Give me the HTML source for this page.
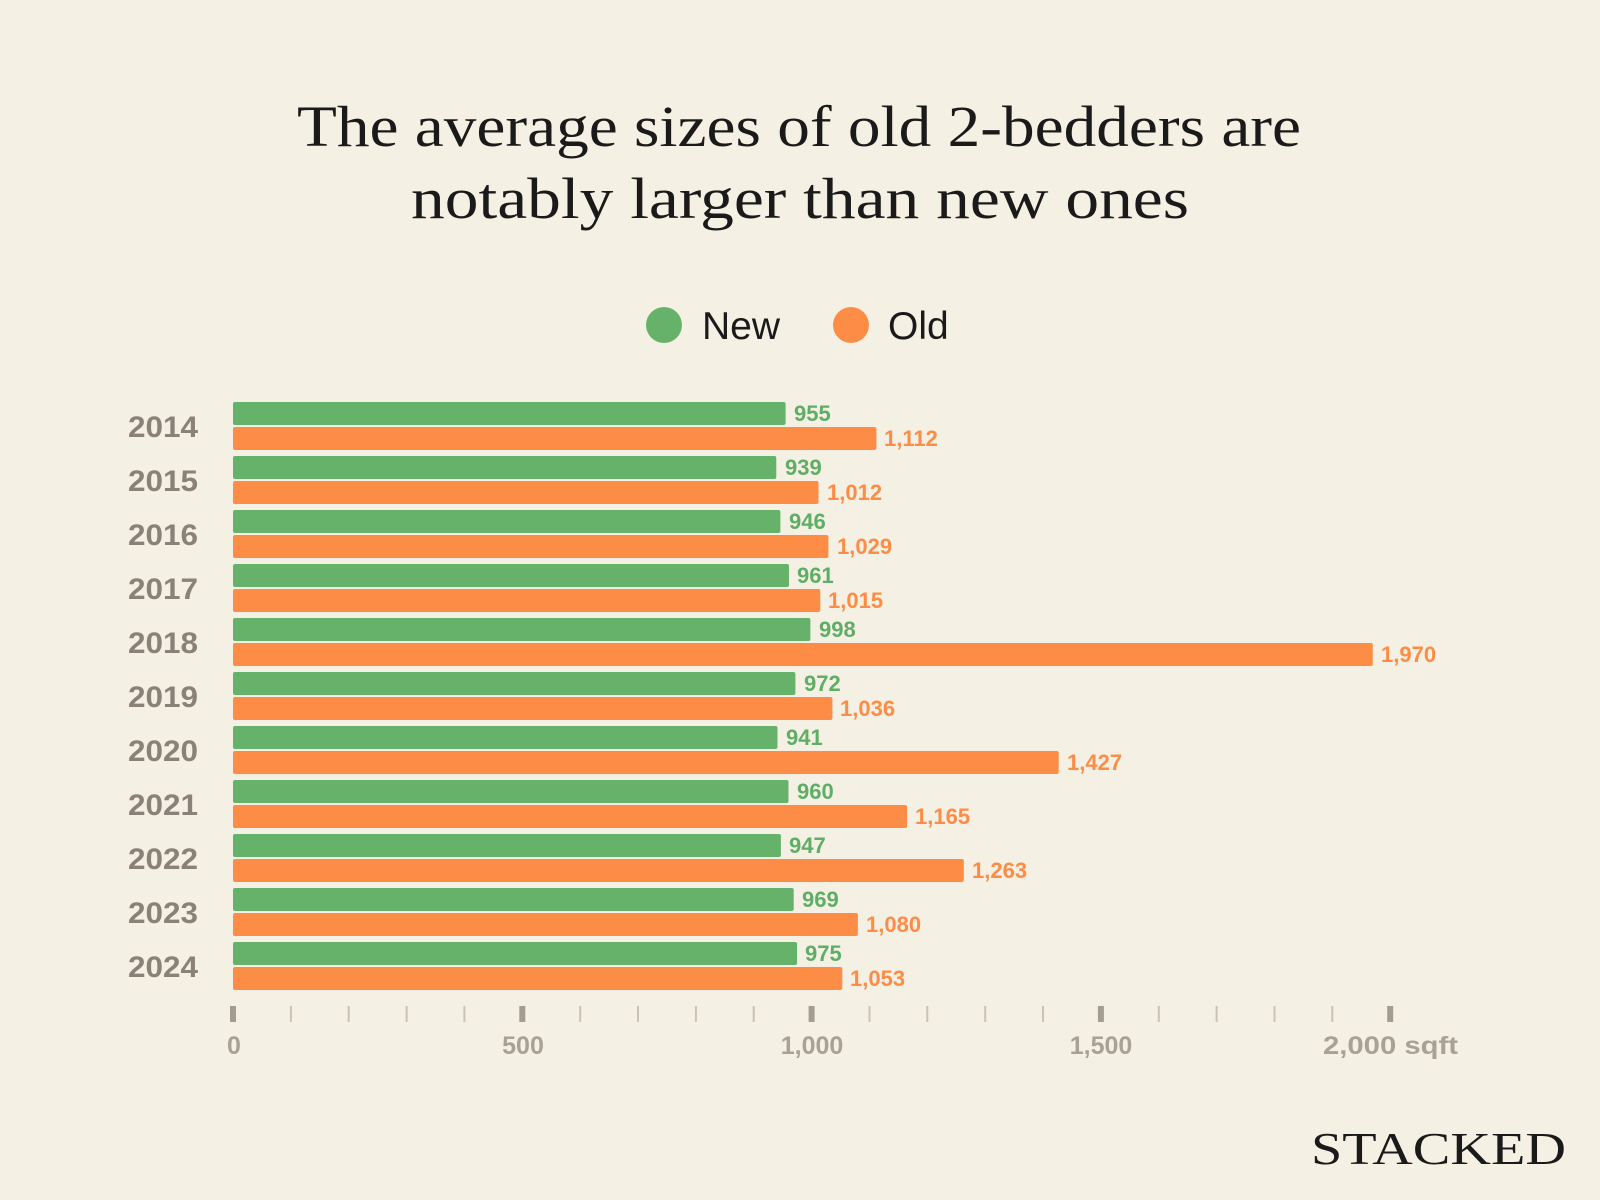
<!DOCTYPE html>
<html><head><meta charset="utf-8"><style>
body{margin:0;background:#f5f0e4;}
svg{display:block}
</style></head><body>
<svg width="1600" height="1200" viewBox="0 0 1600 1200" xmlns="http://www.w3.org/2000/svg">
<rect width="1600" height="1200" fill="#f5f0e4"/>
<g font-family="Liberation Serif, serif" fill="#1a1a1a" font-size="58">
<text x="297" y="146" textLength="1004" lengthAdjust="spacingAndGlyphs">The average sizes of old 2-bedders are</text>
<text x="411" y="218" textLength="778" lengthAdjust="spacingAndGlyphs">notably larger than new ones</text>
</g>
<circle cx="664" cy="325" r="18" fill="#66b26b"/>
<text x="702" y="339" font-family="Liberation Sans, sans-serif" font-size="39" fill="#1a1a1a">New</text>
<circle cx="851" cy="325" r="18" fill="#fd8d46"/>
<text x="888" y="339" font-family="Liberation Sans, sans-serif" font-size="39" fill="#1a1a1a">Old</text>

<g font-family="Liberation Sans, sans-serif" font-weight="bold" font-size="30" fill="#8a8178">
<text x="128" y="437" textLength="70" lengthAdjust="spacingAndGlyphs">2014</text><text x="128" y="491" textLength="70" lengthAdjust="spacingAndGlyphs">2015</text><text x="128" y="545" textLength="70" lengthAdjust="spacingAndGlyphs">2016</text>
<text x="128" y="599" textLength="70" lengthAdjust="spacingAndGlyphs">2017</text><text x="128" y="653" textLength="70" lengthAdjust="spacingAndGlyphs">2018</text><text x="128" y="707" textLength="70" lengthAdjust="spacingAndGlyphs">2019</text>
<text x="128" y="761" textLength="70" lengthAdjust="spacingAndGlyphs">2020</text><text x="128" y="815" textLength="70" lengthAdjust="spacingAndGlyphs">2021</text><text x="128" y="869" textLength="70" lengthAdjust="spacingAndGlyphs">2022</text>
<text x="128" y="923" textLength="70" lengthAdjust="spacingAndGlyphs">2023</text><text x="128" y="977" textLength="70" lengthAdjust="spacingAndGlyphs">2024</text>
</g>
<g fill="#66b26b">
<rect x="233" y="402" width="552.6" height="23" rx="2"/>
<rect x="233" y="456" width="543.3" height="23" rx="2"/>
<rect x="233" y="510" width="547.4" height="23" rx="2"/>
<rect x="233" y="564" width="556.0" height="23" rx="2"/>
<rect x="233" y="618" width="577.4" height="23" rx="2"/>
<rect x="233" y="672" width="562.4" height="23" rx="2"/>
<rect x="233" y="726" width="544.5" height="23" rx="2"/>
<rect x="233" y="780" width="555.5" height="23" rx="2"/>
<rect x="233" y="834" width="547.9" height="23" rx="2"/>
<rect x="233" y="888" width="560.7" height="23" rx="2"/>
<rect x="233" y="942" width="564.1" height="23" rx="2"/>
</g>
<g fill="#fd8d46">
<rect x="233" y="427" width="643.4" height="23" rx="2"/>
<rect x="233" y="481" width="585.5" height="23" rx="2"/>
<rect x="233" y="535" width="595.4" height="23" rx="2"/>
<rect x="233" y="589" width="587.3" height="23" rx="2"/>
<rect x="233" y="643" width="1139.8" height="23" rx="2"/>
<rect x="233" y="697" width="599.4" height="23" rx="2"/>
<rect x="233" y="751" width="825.7" height="23" rx="2"/>
<rect x="233" y="805" width="674.1" height="23" rx="2"/>
<rect x="233" y="859" width="730.8" height="23" rx="2"/>
<rect x="233" y="913" width="624.9" height="23" rx="2"/>
<rect x="233" y="967" width="609.3" height="23" rx="2"/>
</g>
<g font-family="Liberation Sans, sans-serif" font-weight="bold" font-size="22" fill="#5fae65">
<text x="794" y="421">955</text><text x="785" y="475">939</text><text x="789" y="529">946</text>
<text x="797" y="583">961</text><text x="819" y="637">998</text><text x="804" y="691">972</text>
<text x="786" y="745">941</text><text x="797" y="799">960</text><text x="789" y="853">947</text>
<text x="802" y="907">969</text><text x="805" y="961">975</text>
</g>
<g font-family="Liberation Sans, sans-serif" font-weight="bold" font-size="22" fill="#fd8d46">
<text x="884" y="446">1,112</text><text x="827" y="500">1,012</text><text x="837" y="554">1,029</text>
<text x="828" y="608">1,015</text><text x="1381" y="662">1,970</text><text x="840" y="716">1,036</text>
<text x="1067" y="770">1,427</text><text x="915" y="824">1,165</text><text x="972" y="878">1,263</text>
<text x="866" y="932">1,080</text><text x="850" y="986">1,053</text>
</g>
<path d="M290.9 1006v16M348.7 1006v16M406.6 1006v16M464.4 1006v16M580.2 1006v16M638 1006v16M695.9 1006v16M753.7 1006v16M869.5 1006v16M927.3 1006v16M985.2 1006v16M1043 1006v16M1158.8 1006v16M1216.6 1006v16M1274.5 1006v16M1332.3 1006v16" stroke="#c9c3b6" stroke-width="2"/>
<path d="M233 1006v16M522.3 1006v16M811.6 1006v16M1100.9 1006v16M1390.2 1006v16" stroke="#a39c90" stroke-width="6"/>
<g font-family="Liberation Sans, sans-serif" font-weight="bold" font-size="25" fill="#a8a195" text-anchor="middle">
<text x="234" y="1054">0</text><text x="523" y="1054">500</text><text x="812" y="1054">1,000</text><text x="1101" y="1054">1,500</text>
</g>
<text x="1323" y="1054" font-family="Liberation Sans, sans-serif" font-weight="bold" font-size="25" fill="#a8a195" textLength="135" lengthAdjust="spacingAndGlyphs">2,000 sqft</text>
<text x="1311" y="1164" font-family="Liberation Serif, serif" font-size="46" fill="#1a1a1a" textLength="255" lengthAdjust="spacingAndGlyphs">STACKED</text>
</svg>
</body></html>
